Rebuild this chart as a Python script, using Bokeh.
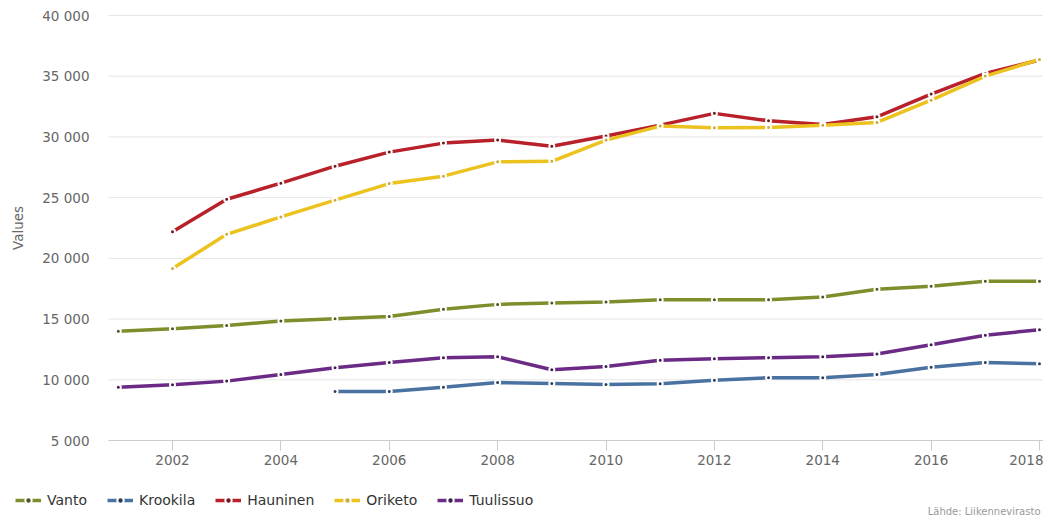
from bokeh.plotting import figure
from bokeh.models import FixedTicker, Legend, LegendItem, Label, Range1d
from bokeh.embed import file_html
from bokeh.resources import INLINE

nan = float("nan")

years = list(range(2001, 2019))

vanto = [13990, 14210, 14480, 14840, 15030, 15220, 15800, 16210, 16320,
         16400, 16600, 16600, 16600, 16820, 17450, 17700, 18110, 18110]
krookila = [nan, nan, nan, nan, 9040, 9040, 9390, 9780, 9700,
            9620, 9670, 9970, 10170, 10170, 10440, 11040, 11430, 11320]
hauninen = [nan, 22200, 24870, 26190, 27590, 28750, 29490, 29740, 29240,
            30070, 30970, 31940, 31330, 31030, 31660, 33530, 35230, 36330]
oriketo = [nan, 19160, 21980, 23410, 24790, 26160, 26770, 27950, 27990,
           29740, 30890, 30750, 30780, 30970, 31190, 33030, 35010, 36380]
tuulissuo = [9390, 9590, 9890, 10440, 10990, 11430, 11820, 11900, 10830,
             11100, 11600, 11740, 11820, 11900, 12120, 12890, 13660, 14130]

series_names = ["Vanto", "Krookila", "Hauninen", "Oriketo", "Tuulissuo"]
series_values = [vanto, krookila, hauninen, oriketo, tuulissuo]
line_colors = ["#7d8f2c", "#4a72a0", "#b8202a", "#ebc21e", "#6a2a86"]
marker_colors = ["#4c5426", "#2c3c58", "#6e1a20", "#c9aa3c", "#3a1f4c"]

y_ticks = [5000, 10000, 15000, 20000, 25000, 30000, 35000, 40000]
y_tick_labels = ["5 000", "10 000", "15 000", "20 000", "25 000", "30 000", "35 000", "40 000"]
x_ticks = [2002, 2004, 2006, 2008, 2010, 2012, 2014, 2016, 2018]

y_title = "Values"
credit_text = "Lähde: Liikennevirasto"

FONT = "DejaVu Sans"

# ---- layout (pixels, figure coordinates) ----
W, H = 1043, 516
PLOT_LEFT = 108          # left edge of plot area
PLOT_TOP = 15            # y of 40 000 line
PLOT_BOTTOM = 440        # y of 5 000 line
X_FIRST_TICK = 172       # x of 2002
X_LAST_TICK = 1039       # x of 2018

px_per_year = (X_LAST_TICK - X_FIRST_TICK) / (x_ticks[-1] - x_ticks[0])
x_start = x_ticks[0] - X_FIRST_TICK / px_per_year
x_end = x_start + W / px_per_year
x_plot_left = x_start + PLOT_LEFT / px_per_year

units_per_px = (y_ticks[-1] - y_ticks[0]) / (PLOT_BOTTOM - PLOT_TOP)
y_end = y_ticks[-1] + PLOT_TOP * units_per_px
y_start = y_end - H * units_per_px

p = figure(width=W, height=H, output_backend="svg", toolbar_location=None,
           x_range=Range1d(x_start, x_end), y_range=Range1d(y_start, y_end),
           min_border_left=0, min_border_right=0, min_border_top=0, min_border_bottom=0,
           background_fill_color="white", border_fill_color="white")
p.outline_line_color = None
p.xgrid.grid_line_color = None
p.ygrid.grid_line_color = None

# horizontal grid lines
p.segment(x0=[x_plot_left] * len(y_ticks), y0=y_ticks, x1=[x_end] * len(y_ticks), y1=y_ticks,
          line_color="#e6e6e6", line_width=1)

# y axis
p.yaxis.fixed_location = x_plot_left
p.yaxis.bounds = (y_ticks[0], y_ticks[-1])
p.yaxis.ticker = FixedTicker(ticks=y_ticks)
p.yaxis.major_label_overrides = {t: l for t, l in zip(y_ticks, y_tick_labels)}
p.yaxis.axis_line_color = None
p.yaxis.major_tick_line_color = None
p.yaxis.minor_tick_line_color = None
p.yaxis.major_tick_out = 0
p.yaxis.major_tick_in = 0
p.yaxis.minor_tick_out = 0
p.yaxis.major_label_standoff = 19
p.yaxis.major_label_text_font = FONT
p.yaxis.major_label_text_font_size = "13.5px"
p.yaxis.major_label_text_color = "#666666"
p.yaxis.axis_label = y_title
p.yaxis.axis_label_text_font = FONT
p.yaxis.axis_label_text_font_size = "13.5px"
p.yaxis.axis_label_text_font_style = "normal"
p.yaxis.axis_label_text_color = "#666666"
p.yaxis.axis_label_standoff = 13

# x axis
p.xaxis.fixed_location = y_ticks[0]
p.xaxis.bounds = (x_plot_left, x_end)
p.xaxis.ticker = FixedTicker(ticks=x_ticks)
p.xaxis.major_label_overrides = {x_ticks[-1]: " "}
p.xaxis.axis_line_color = "#cccccc"
p.xaxis.major_tick_line_color = "#cccccc"
p.xaxis.minor_tick_line_color = None
p.xaxis.minor_tick_out = 0
p.xaxis.major_tick_in = 0
p.xaxis.major_tick_out = 10
p.xaxis.major_label_standoff = 1
p.xaxis.major_label_text_font = FONT
p.xaxis.major_label_text_font_size = "13.5px"
p.xaxis.major_label_text_color = "#666666"

# last x label, kept inside the page like the reference does
last_label = Label(x=W, y=H - 459, x_units="screen", y_units="screen",
                   text=str(x_ticks[-1]), text_align="right", text_baseline="middle",
                   text_font=FONT, text_font_size="13.5px", text_color="#666666")
p.add_layout(last_label)

items = []
for name, vals, lc, mc in zip(series_names, series_values, line_colors, marker_colors):
    rl = p.line(years, vals, line_color=lc, line_width=3.5)
    rs = p.scatter(years, vals, size=5, fill_color=mc, line_color="white", line_width=2)
    items.append(LegendItem(label=name, renderers=[rl, rs]))

legend = Legend(items=items, orientation="horizontal", location=(15, H - 508),
                padding=0, margin=0, spacing=20, glyph_width=26, glyph_height=16,
                label_standoff=6, label_text_font=FONT, label_text_font_size="14px",
                label_text_color="#333333", border_line_color=None,
                background_fill_alpha=0)
p.add_layout(legend)

credit = Label(x=1040, y=H - 511, x_units="screen", y_units="screen", text=credit_text,
               text_align="right", text_baseline="middle", text_font=FONT,
               text_font_size="10px", text_color="#999999")
p.add_layout(credit)

open("out.html", "w").write(file_html(p, INLINE))
